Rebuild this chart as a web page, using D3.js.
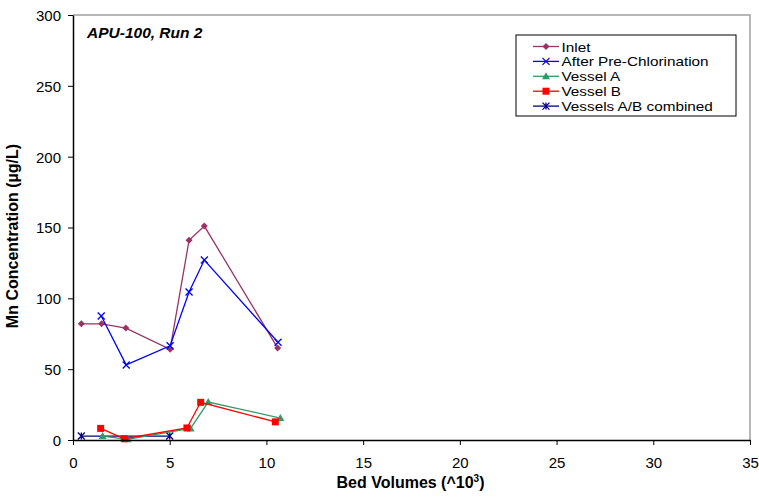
<!DOCTYPE html>
<html><head><meta charset="utf-8">
<script src="https://cdn.jsdelivr.net/npm/d3@7"></script>
<style>body{margin:0;background:#fff}svg{display:block;font-family:"Liberation Sans",Arial,sans-serif}</style>
</head><body><svg id="c" width="759" height="497"></svg>
<script>
const xTicks=[0,5,10,15,20,25,30,35];
const yTicks=[0,50,100,150,200,250,300];
const inletX=[0.43,1.48,2.73,5.02,6.0,6.79,10.58];
const inletY=[82,82,79,64,141,151,65];
const preX=[1.46,2.75,5.02,6.0,6.79,10.6];
const preY=[87.5,53,66.5,104.5,127,69];
const vaX=[1.53,2.82,6.08,6.99,10.72];
const vaY=[2.8,0.5,8.2,26.8,15.5];
const vbX=[1.43,2.65,5.89,6.6,10.46];
const vbY=[8.2,0.9,8.5,26.6,12.8];
const cbX=[0.43,5.0];
const cbY=[2.8,2.8];
const names=["Inlet","After Pre-Chlorination","Vessel A","Vessel B","Vessels A/B combined"];
const colors=["#993366","#0000ff","#339966","#ff0000","#000080"];
const markers=["diamond","x","triangle","square","star"];
const seriesX=[inletX,preX,vaX,vbX,cbX];
const seriesY=[inletY,preY,vaY,vbY,cbY];

const svg=d3.select("#c");
const L=73,R=750,T=15,B=440;
const x=d3.scaleLinear().domain([0,35]).range([L,R]);
const y=d3.scaleLinear().domain([0,300]).range([B,T]);

svg.append("path").attr("d",`M${L},${T}H${R}V${B}`).attr("fill","none").attr("stroke","#a0a0a0").attr("stroke-width",1.5);

function marker(g,type,c){
  if(type==="diamond") g.append("path").attr("d","M0,-3.5L3.5,0L0,3.5L-3.5,0Z").attr("fill",c);
  else if(type==="square") g.append("rect").attr("x",-3.5).attr("y",-3.5).attr("width",7).attr("height",7).attr("fill",c);
  else if(type==="triangle") g.append("path").attr("d","M0,-4L4,3L-4,3Z").attr("fill",c);
  else if(type==="x") g.append("path").attr("d","M-3.5,-3.5L3.5,3.5M-3.5,3.5L3.5,-3.5").attr("stroke",c).attr("stroke-width",1.3);
  else if(type==="star") g.append("path").attr("d","M-3.5,-3.5L3.5,3.5M-3.5,3.5L3.5,-3.5M0,-3.5V3.5").attr("stroke",c).attr("stroke-width",1.3);
}

const line=d3.line().x(d=>x(d[0])).y(d=>y(d[1]));
[4,0,1,2,3].forEach(i=>{
  const pts=seriesX[i].map((v,j)=>[v,seriesY[i][j]]);
  svg.append("path").attr("d",line(pts)).attr("fill","none").attr("stroke",colors[i]).attr("stroke-width",1.3);
  pts.forEach(p=>{const g=svg.append("g").attr("transform",`translate(${x(p[0])},${y(p[1])})`);marker(g,markers[i],colors[i]);});
});

const xa=svg.append("g").attr("transform",`translate(0,${B})`).call(d3.axisBottom(x).tickValues(xTicks).tickSize(5).tickSizeOuter(0).tickFormat(d3.format("d")));
const ya=svg.append("g").attr("transform",`translate(${L},0)`).call(d3.axisLeft(y).tickValues(yTicks).tickSize(5).tickSizeOuter(0).tickFormat(d3.format("d")));
[xa,ya].forEach(a=>{a.select(".domain").attr("stroke","#000").attr("stroke-width",1.5);a.selectAll("line").attr("stroke","#000");a.selectAll("text").attr("font-size",15).attr("font-family","Liberation Sans, Arial, sans-serif").attr("fill","#000");});
xa.selectAll("text").attr("y",0).attr("dy",0).attr("transform","translate(0,28)");
ya.selectAll("text").attr("x",-12).attr("dy","0.36em");

const xl=svg.append("text").attr("x",(L+R)/2-1).attr("y",488).attr("text-anchor","middle").attr("font-size",16).attr("font-weight","bold");
xl.append("tspan").text("Bed Volumes (^10");
xl.append("tspan").attr("dy",-6).attr("font-size",10).text("3");
xl.append("tspan").attr("dy",6).text(")");
svg.append("text").attr("transform",`translate(18,236) rotate(-90)`).attr("text-anchor","middle").attr("font-size",16).attr("font-weight","bold").text("Mn Concentration (µg/L)");
svg.append("text").attr("x",87).attr("y",38).attr("font-size",15.5).attr("font-weight","bold").attr("font-style","italic").text("APU-100, Run 2");

const lg=svg.append("g");
lg.append("rect").attr("x",516).attr("y",35).attr("width",220).attr("height",81).attr("fill","#fff").attr("stroke","#000").attr("stroke-width",1);
const sx=1.16;
names.forEach((n,i)=>{
  const yy=46.5+i*14.9;
  lg.append("line").attr("x1",533).attr("x2",559).attr("y1",yy).attr("y2",yy).attr("stroke",colors[i]).attr("stroke-width",1.3);
  const g=lg.append("g").attr("transform",`translate(546,${yy})`);marker(g,markers[i],colors[i]);
  lg.append("text").attr("transform",`translate(561.5,${yy+5}) scale(${sx},1)`).attr("font-size",13.2).text(n);
});
</script></body></html>
